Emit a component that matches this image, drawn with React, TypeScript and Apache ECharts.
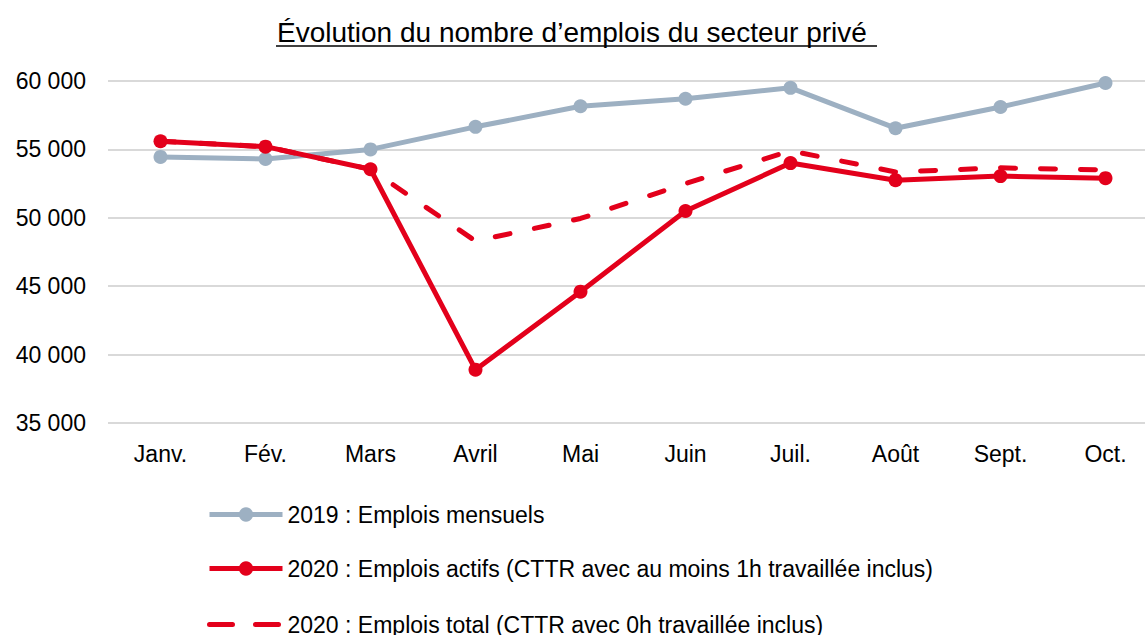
import React, { useEffect, useRef } from "react";
import * as echarts from "echarts";

const categories = ["Janv.", "Fév.", "Mars", "Avril", "Mai", "Juin", "Juil.", "Août", "Sept.", "Oct."];
const emplois2019 = [54450, 54300, 55000, 56650, 58150, 58700, 59500, 56550, 58100, 59850];
const actifs2020 = [55600, 55200, 53550, 38900, 44600, 50500, 54000, 52750, 53050, 52900];
const total2020 = [55600, 55200, 53550, 48300, 49950, 52500, 54900, 53350, 53650, 53500];
const seriesNames = [
  "2019 : Emplois mensuels",
  "2020 : Emplois actifs (CTTR avec au moins 1h travaillée inclus)",
  "2020 : Emplois total (CTTR avec 0h travaillée inclus)",
];
const titleText = "Évolution du nombre d’emplois du secteur privé";

const GREY = "#9db0c2";
const RED = "#e3001b";
const FONT = "'Liberation Sans', Arial, Helvetica, sans-serif";

export default function App() {
  const ref = useRef<HTMLDivElement>(null);
  useEffect(() => {
    document.body.style.margin = "0";
    document.body.style.overflow = "hidden";
    if (!ref.current) return;
    const chart = echarts.init(ref.current, undefined, { renderer: "svg" });
    const fmt = (v: number) => String(v).replace(/\B(?=(\d{3})+(?!\d))/g, " ");
    const legendBase = {
      orient: "horizontal",
      left: 207,
      padding: 0,
      itemWidth: 73,
      itemHeight: 18,
      textStyle: { fontFamily: FONT, fontSize: 23, color: "#000", padding: [0, 0, 0, 0] },
    };
    chart.setOption({
      animation: false,
      textStyle: { fontFamily: FONT },
      title: {
        text: titleText,
        left: 277,
        top: 18,
        padding: 0,
        textStyle: { fontFamily: FONT, fontSize: 28, fontWeight: "normal", color: "#000" },
      },
      graphic: [
        { type: "line", shape: { x1: 276, y1: 46, x2: 877, y2: 46 }, style: { stroke: "#000", lineWidth: 1.5 } },
      ],
      grid: { left: 108, top: 81, width: 1050, height: 342, containLabel: false },
      legend: [
        {
          ...legendBase,
          top: 503,
          data: [{ name: seriesNames[0], lineStyle: { width: 5 } }],
        },
        {
          ...legendBase,
          top: 557,
          data: [{ name: seriesNames[1], lineStyle: { width: 5 } }],
        },
        {
          ...legendBase,
          top: 613,
          data: [
            {
              name: seriesNames[2],
              lineStyle: { type: [23, 23], width: 5 },
              itemStyle: { opacity: 0 },
            },
          ],
        },
      ],
      xAxis: {
        type: "category",
        data: categories,
        boundaryGap: true,
        axisLine: { show: false },
        axisTick: { show: false },
        axisLabel: { fontFamily: FONT, fontSize: 23, color: "#000", margin: 19 },
      },
      yAxis: {
        type: "value",
        min: 35000,
        max: 60000,
        interval: 5000,
        axisLine: { show: false },
        axisTick: { show: false },
        axisLabel: { fontFamily: FONT, fontSize: 23, color: "#000", margin: 22, formatter: fmt },
        splitLine: { lineStyle: { color: "#d9d9d9", width: 2 } },
      },
      series: [
        {
          name: seriesNames[0],
          type: "line",
          data: emplois2019,
          symbol: "circle",
          symbolSize: 14,
          lineStyle: { color: GREY, width: 5 },
          itemStyle: { color: GREY },
          z: 2,
        },
        {
          name: seriesNames[2],
          type: "line",
          data: total2020,
          symbol: "none",
          lineStyle: { color: RED, width: 5, type: [15, 25], cap: "round" },
          itemStyle: { color: RED },
          z: 3,
        },
        {
          name: seriesNames[1],
          type: "line",
          data: actifs2020,
          symbol: "circle",
          symbolSize: 14,
          lineStyle: { color: RED, width: 5 },
          itemStyle: { color: RED },
          z: 4,
        },
      ],
    });
    return () => chart.dispose();
  }, []);
  return <div ref={ref} style={{ width: 1160, height: 635 }} />;
}
